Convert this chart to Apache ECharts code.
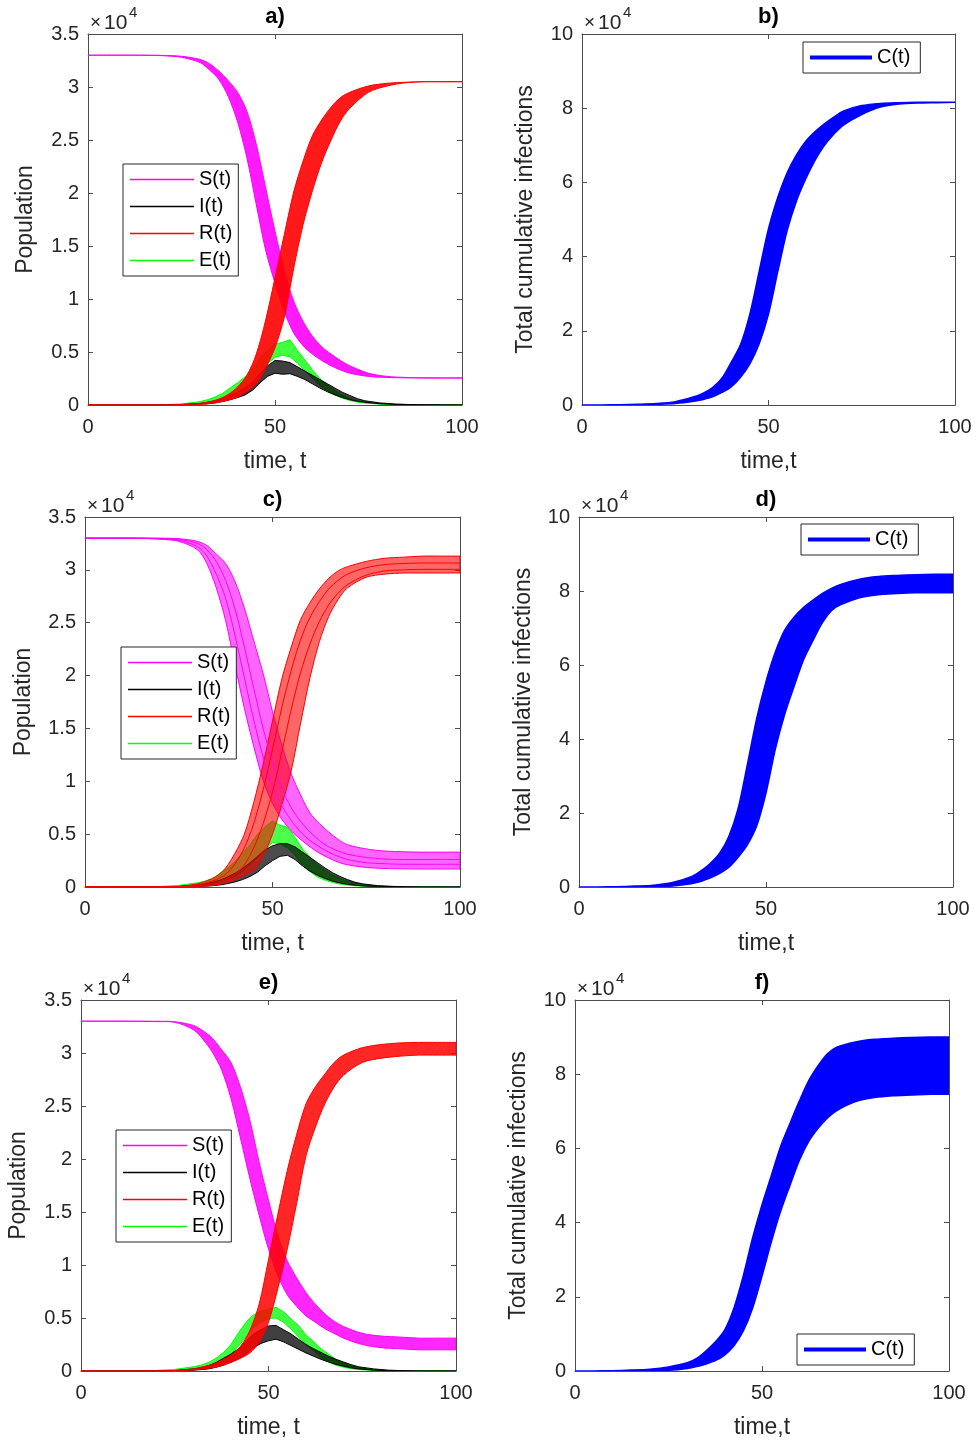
<!DOCTYPE html>
<html>
<head>
<meta charset="utf-8">
<title>SEIR stochastic runs</title>
<script src="https://cdn.jsdelivr.net/npm/echarts@6/dist/echarts.min.js"></script>
<style>
html, body { margin: 0; padding: 0; background: #fff; }
#main { width: 978px; height: 1446px; }
</style>
</head>
<body>
<div id="main"></div>
<script>
// time grids (band curves / noisy E,I curves)
var T = [0, 5, 10, 15, 20, 25, 30, 32.5, 35, 37.5, 40, 42.5, 45, 47.5, 50, 52.5, 55, 57.5, 60, 62.5, 65, 67.5, 70, 75, 80, 85, 90, 95, 100];
var TN = [0, 10, 20, 25, 30, 32, 34, 36, 38, 40, 42, 44, 46, 48, 50, 52, 54, 56, 58, 60, 62, 64, 66, 68, 70, 72, 74, 78, 82, 86, 90, 100];

// panel a) - lower / upper edges of each ensemble
var sLoA = [33000, 33000, 33000, 32990, 32950, 32800, 32300, 31600, 30700, 29100, 26700, 23300, 18900, 14600, 11500, 8800, 6800, 5600, 4800, 4200, 3700, 3300, 3000, 2700, 2600, 2560, 2550, 2550, 2550];
var sHiA = [33000, 33000, 33000, 33000, 32980, 32900, 32600, 32200, 31500, 30600, 29500, 27700, 24600, 20500, 16400, 12700, 9800, 7900, 6500, 5500, 4800, 4200, 3700, 3000, 2700, 2600, 2560, 2550, 2550];
var rLoA = [0, 0, 0, 0, 0, 10, 60, 130, 250, 450, 750, 1300, 2000, 3500, 5400, 8300, 12900, 17000, 20200, 22900, 25000, 26800, 28000, 29500, 30100, 30400, 30500, 30500, 30500];
var rHiA = [0, 0, 0, 0, 5, 30, 150, 300, 550, 1000, 1700, 2800, 4800, 8000, 12000, 16100, 20100, 23000, 25400, 26900, 28100, 29000, 29500, 30100, 30350, 30450, 30500, 30500, 30500];
var eLoA = [0, 0, 10, 50, 150, 280, 450, 700, 1000, 1300, 1700, 2400, 3200, 3900, 4500, 4700, 4550, 3950, 3250, 2500, 1850, 1350, 950, 650, 420, 280, 180, 80, 30, 10, 0, 0];
var eHiA = [0, 0, 30, 100, 320, 500, 750, 1100, 1600, 2100, 2650, 3400, 4450, 5200, 5750, 5900, 6150, 5150, 4250, 3300, 2500, 1850, 1350, 950, 620, 400, 250, 120, 50, 20, 10, 0];
var iLoA = [0, 0, 0, 20, 80, 120, 200, 350, 500, 700, 950, 1400, 2100, 2700, 3000, 2900, 2950, 2700, 2400, 2000, 1600, 1250, 950, 700, 500, 350, 250, 120, 50, 20, 5, 0];
var iHiA = [0, 0, 10, 50, 150, 250, 400, 600, 900, 1200, 1600, 2200, 3000, 3700, 4200, 4150, 4000, 3600, 3200, 2800, 2400, 2000, 1600, 1200, 900, 600, 400, 200, 100, 40, 20, 0];

// panel c)
var sLoC = [33000, 33000, 33000, 32980, 32900, 32700, 31900, 30600, 28300, 25200, 21000, 16900, 13300, 10100, 7900, 6400, 5300, 4500, 3800, 3200, 2750, 2350, 2100, 1850, 1750, 1720, 1700, 1700, 1700];
var sHiC = [33000, 33000, 33000, 33000, 33000, 32950, 32700, 32300, 31500, 30600, 28900, 26400, 23300, 20200, 16600, 13400, 10700, 8700, 7000, 6000, 5200, 4500, 4000, 3600, 3400, 3330, 3300, 3300, 3300];
var sMid1C = [33000, 33000, 33000, 32990, 32930, 32800, 32200, 31300, 29600, 27300, 23800, 19800, 15800, 12300, 9600, 7700, 6300, 5200, 4400, 3800, 3300, 2900, 2600, 2300, 2200, 2150, 2150, 2150, 2150];
var sMid2C = [33000, 33000, 33000, 33000, 32970, 32880, 32500, 31900, 30800, 29000, 26300, 22700, 18800, 15000, 11800, 9300, 7500, 6200, 5200, 4400, 3800, 3400, 3100, 2800, 2650, 2600, 2600, 2600, 2600];
var rLoC = [0, 0, 0, 0, 0, 0, 50, 100, 200, 400, 700, 1100, 1600, 2900, 5000, 7800, 11000, 15500, 19800, 23200, 25600, 27200, 28300, 29300, 29600, 29700, 29700, 29700, 29700];
var rHiC = [0, 0, 0, 0, 10, 50, 300, 600, 1000, 1800, 3200, 5000, 8000, 11600, 15700, 19700, 22700, 25300, 26900, 28200, 29200, 29900, 30300, 30800, 31100, 31200, 31300, 31300, 31300];
var rMid1C = [0, 0, 0, 0, 5, 30, 200, 400, 700, 1200, 2200, 3700, 6000, 9200, 13000, 17000, 20500, 23400, 25500, 27000, 28200, 29000, 29600, 30200, 30500, 30600, 30650, 30650, 30650];
var rMid2C = [0, 0, 0, 0, 0, 10, 100, 200, 400, 700, 1200, 2100, 3700, 6000, 9000, 12800, 16800, 20300, 23000, 25100, 26700, 27800, 28600, 29500, 29900, 30000, 30050, 30050, 30050];
var eLoC = [0, 0, 10, 30, 150, 220, 320, 500, 750, 1050, 1500, 2100, 2800, 3600, 4200, 4100, 3700, 3000, 2000, 1450, 950, 650, 420, 280, 180, 120, 80, 30, 10, 0, 0, 0];
var eHiC = [0, 5, 50, 150, 400, 550, 800, 1300, 1800, 2400, 3200, 4000, 5000, 5700, 6250, 5850, 5650, 4700, 3600, 2800, 2100, 1600, 1150, 800, 550, 350, 220, 100, 40, 20, 10, 0];
var iLoC = [0, 0, 0, 10, 50, 80, 120, 200, 320, 480, 700, 1000, 1400, 2000, 2500, 2900, 3000, 2600, 2000, 1500, 1100, 800, 550, 380, 250, 170, 100, 40, 10, 0, 0, 0];
var iHiC = [0, 0, 10, 50, 200, 300, 450, 650, 950, 1300, 1750, 2300, 2900, 3500, 3900, 4100, 4100, 3800, 3300, 2800, 2300, 1800, 1350, 1000, 700, 450, 300, 130, 60, 20, 5, 0];

// panel e)
var sLoE = [33000, 33000, 33000, 32990, 32960, 32900, 32200, 31300, 30100, 28400, 25700, 22000, 18200, 14700, 11500, 9000, 7200, 6100, 5200, 4600, 4000, 3550, 3100, 2500, 2200, 2100, 2000, 2000, 2000];
var sHiE = [33000, 33000, 33000, 33000, 32990, 32950, 32600, 32100, 31400, 30300, 29100, 26800, 23700, 19700, 16100, 12800, 10400, 8800, 7400, 6300, 5400, 4700, 4200, 3550, 3300, 3200, 3100, 3100, 3100];
var rLoE = [0, 0, 0, 0, 0, 20, 100, 200, 300, 500, 800, 1200, 1700, 2700, 4600, 7800, 11500, 15800, 20300, 23000, 25200, 26800, 27900, 29100, 29500, 29700, 29800, 29800, 29800];
var rHiE = [0, 0, 0, 0, 10, 50, 200, 400, 600, 1000, 1500, 2300, 3800, 6300, 10500, 14800, 18900, 22300, 25200, 26800, 28000, 29100, 29800, 30500, 30800, 30950, 31000, 31000, 31000];
var eLoE = [0, 0, 10, 30, 200, 350, 500, 700, 1050, 1600, 2350, 3200, 4100, 4600, 4950, 5000, 4600, 3950, 3200, 2500, 1900, 1300, 850, 550, 350, 220, 140, 50, 20, 0, 0, 0];
var eHiE = [0, 5, 50, 150, 400, 550, 800, 1200, 1750, 2500, 3600, 4600, 5300, 5650, 5850, 6000, 5600, 4900, 4300, 3400, 2800, 2100, 1600, 1100, 750, 480, 300, 120, 50, 20, 10, 0];
var iLoE = [0, 0, 0, 10, 80, 130, 200, 350, 550, 850, 1150, 1600, 2200, 2600, 2850, 3000, 2750, 2400, 2050, 1700, 1400, 1100, 850, 620, 450, 300, 200, 80, 30, 10, 0, 0];
var iHiE = [0, 0, 10, 50, 200, 300, 500, 800, 1200, 1600, 2100, 2800, 3500, 3900, 4250, 4300, 3900, 3500, 3000, 2500, 2100, 1750, 1400, 1100, 850, 600, 400, 200, 80, 30, 10, 0];

// panels b) d) f) - cumulative infections band
var cLoB = [0, 0, 50, 100, 200, 400, 1000, 1500, 2200, 3400, 4900, 7500, 11100, 16500, 24500, 36000, 47000, 55000, 61000, 66000, 70000, 73000, 75400, 78300, 80300, 81100, 81400, 81500, 81600];
var cHiB = [0, 20, 100, 200, 400, 900, 2200, 3200, 4700, 7200, 11500, 16300, 24500, 36000, 47500, 56000, 62600, 67400, 71100, 73700, 75800, 77600, 79200, 80700, 81300, 81500, 81600, 81600, 81600];
var cLoD = [0, 0, 20, 50, 100, 300, 900, 1500, 2400, 3600, 5300, 8000, 11400, 16500, 25400, 37300, 46700, 54200, 61300, 66500, 71300, 74700, 76300, 78200, 79000, 79300, 79500, 79500, 79500];
var cHiD = [0, 20, 100, 250, 500, 1200, 2800, 4300, 6300, 9000, 13500, 21000, 33000, 45500, 55500, 63500, 69400, 72900, 75500, 77500, 79300, 80700, 81800, 83200, 83900, 84200, 84400, 84500, 84500];
var cLoF = [0, 0, 20, 60, 100, 200, 700, 1200, 1900, 2800, 4300, 6800, 10800, 17000, 25600, 34800, 43100, 50100, 56800, 61900, 65400, 68200, 70200, 72600, 73700, 74200, 74400, 74600, 74600];
var cHiF = [0, 20, 100, 250, 500, 1100, 2200, 3400, 5400, 7800, 11000, 17000, 25700, 35900, 44800, 52700, 60600, 66800, 72800, 78300, 82300, 85500, 87300, 88700, 89400, 89700, 89900, 90000, 90000];

var FONT = '"Liberation Sans", Arial, Helvetica, sans-serif';
var AX = '#4d4d4d';
var TXT = '#262626';
var COL = { S: '#ff00ff', I: '#000000', R: '#ff0000', E: '#00ff00', C: '#0000ff' };
var NAME = { S: 'S(t)', I: 'I(t)', R: 'R(t)', E: 'E(t)', C: 'C(t)' };

var panels = [
    { tag: 'a)', kind: 'pop', box: [88, 34, 374, 371], yGap: 51, leg: [123, 164], S: [sLoA, sHiA], R: [rLoA, rHiA], E: [eLoA, eHiA], I: [iLoA, iHiA], fill: [0.9, 0.75] },
    { tag: 'b)', kind: 'cum', box: [582, 34, 373, 371], yGap: 45, leg: [803, 42], C: [cLoB, cHiB] },
    { tag: 'c)', kind: 'pop', box: [85, 517, 375, 370], yGap: 50, leg: [121, 647], S: [sLoC, sHiC], R: [rLoC, rHiC], E: [eLoC, eHiC], I: [iLoC, iHiC], fill: [0.6, 0.7],
      runs: { S: [sMid1C, sMid2C], R: [rMid1C, rMid2C] } },
    { tag: 'd)', kind: 'cum', box: [579, 517, 374, 370], yGap: 44, leg: [801, 524], C: [cLoD, cHiD] },
    { tag: 'e)', kind: 'pop', box: [81, 1000, 375, 371], yGap: 51, leg: [116, 1130], S: [sLoE, sHiE], R: [rLoE, rHiE], E: [eLoE, eHiE], I: [iLoE, iHiE], fill: [0.85, 0.75] },
    { tag: 'f)', kind: 'cum', box: [575, 1000, 374, 371], yGap: 45, leg: [797, 1334], C: [cLoF, cHiF] }
];

// ensemble envelope: filled polygon between lower and upper runs
function band(gi, key, xs, lo, hi, opacity, width, smooth) {
    return {
        type: 'custom', name: NAME[key], xAxisIndex: 2 * gi, yAxisIndex: 2 * gi,
        silent: true, clip: true,
        itemStyle: { color: COL[key] },
        encode: { x: 0, y: [1, 2] },
        data: xs.map(function (t, i) { return [t, lo[i], hi[i]]; }),
        renderItem: function (params, api) {
            if (params.dataIndex !== 0) return null;
            var cs = params.coordSys;
            var n = xs.length, pts = [], i;
            // end points doubled so the smoothing keeps sharp corners at t=0 / t=100
            pts.push(api.coord([xs[0], hi[0]]));
            for (i = 0; i < n; i++) pts.push(api.coord([xs[i], hi[i]]));
            pts.push(api.coord([xs[n - 1], hi[n - 1]]));
            pts.push(api.coord([xs[n - 1], lo[n - 1]]));
            for (i = n - 1; i >= 0; i--) pts.push(api.coord([xs[i], lo[i]]));
            pts.push(api.coord([xs[0], lo[0]]));
            return {
                type: 'polygon',
                shape: {
                    points: pts, smooth: smooth,
                    smoothConstraint: [[cs.x, cs.y], [cs.x + cs.width, cs.y + cs.height]]
                },
                style: { fill: COL[key], opacity: 1, fillOpacity: opacity, stroke: COL[key], lineWidth: width, lineJoin: 'round' }
            };
        }
    };
}

// a single run drawn inside the envelope
function run(gi, key, xs, ys) {
    return {
        type: 'line', name: NAME[key], xAxisIndex: 2 * gi, yAxisIndex: 2 * gi,
        data: xs.map(function (t, i) { return [t, ys[i]]; }),
        symbol: 'none', smooth: 0.3, silent: true,
        lineStyle: { color: COL[key], width: 1 }, itemStyle: { color: COL[key] },
        emphasis: { disabled: true }
    };
}

function axisBase(showLabel) {
    return {
        axisLine: { show: true, onZero: false, lineStyle: { color: AX, width: 1 } },
        axisTick: { show: true, inside: true, length: 5, lineStyle: { color: AX, width: 1 } },
        axisLabel: { show: showLabel, color: TXT, fontSize: 20, fontFamily: FONT },
        splitLine: { show: false }
    };
}

var grid = [], xAxis = [], yAxis = [], series = [], legend = [], graphic = [];

panels.forEach(function (p, gi) {
    var L = p.box[0], Tp = p.box[1], W = p.box[2], H = p.box[3];
    var pop = p.kind === 'pop';
    grid.push({ left: L, top: Tp, width: W, height: H });

    var xb = axisBase(true);
    xb.axisLabel.margin = 12;
    xAxis.push(Object.assign(xb, {
        type: 'value', gridIndex: gi, position: 'bottom', min: 0, max: 100, interval: 50,
        name: pop ? 'time, t' : 'time,t', nameLocation: 'middle', nameGap: 45,
        nameTextStyle: { fontSize: 23, color: TXT, fontFamily: FONT }
    }));
    xAxis.push(Object.assign(axisBase(false), {
        type: 'value', gridIndex: gi, position: 'top', min: 0, max: 100, interval: 50
    }));

    var ymax = pop ? 35000 : 100000, yint = pop ? 5000 : 20000;
    var yl = axisBase(true);
    yl.axisLabel.margin = 9;
    yl.axisLabel.formatter = function (v) { return String(v / 10000); };
    yAxis.push(Object.assign(yl, {
        type: 'value', gridIndex: gi, position: 'left', min: 0, max: ymax, interval: yint,
        name: pop ? 'Population' : 'Total cumulative infections', nameLocation: 'middle', nameGap: p.yGap,
        nameTextStyle: { fontSize: 23, color: TXT, fontFamily: FONT }
    }));
    yAxis.push(Object.assign(axisBase(false), {
        type: 'value', gridIndex: gi, position: 'right', min: 0, max: ymax, interval: yint
    }));

    var legendNames;
    if (pop) {
        series.push(band(gi, 'S', T, p.S[0], p.S[1], p.fill[0], 1, 0.3));
        if (p.runs) p.runs.S.forEach(function (ys) { series.push(run(gi, 'S', T, ys)); });
        series.push(
            band(gi, 'E', TN, p.E[0], p.E[1], p.fill[1], 1, 0),
            band(gi, 'I', TN, p.I[0], p.I[1], p.fill[1], 1, 0),
            band(gi, 'R', T, p.R[0], p.R[1], p.fill[0], 1, 0.3)
        );
        if (p.runs) p.runs.R.forEach(function (ys) { series.push(run(gi, 'R', T, ys)); });
        legendNames = ['S', 'I', 'R', 'E'];
    } else {
        series.push(band(gi, 'C', T, p.C[0], p.C[1], 1, 1.5, 0.3));
        legendNames = ['C'];
    }

    legend.push({
        left: p.leg[0], top: p.leg[1], orient: 'vertical', selectedMode: false,
        data: legendNames.map(function (k) { return { name: NAME[k], itemStyle: { color: COL[k] } }; }),
        icon: 'rect', itemWidth: pop ? 64 : 62, itemHeight: pop ? 1.5 : 4, itemGap: 6,
        padding: pop ? [5, 6, 5, 7] : [5, 10, 5, 7],
        borderColor: '#262626', borderWidth: 1, backgroundColor: '#fff',
        textStyle: { fontSize: 20, lineHeight: 21, color: '#000', fontFamily: FONT }
    });

    graphic.push(
        { type: 'text', x: L + W / 2, y: Tp - 17, style: { text: p.tag, fontSize: 22, fontWeight: 'bold', fontFamily: FONT, fill: '#000', align: 'center', verticalAlign: 'middle' } },
        { type: 'text', x: L + 2, y: Tp - 11, style: { text: '\u00d7', fontSize: 19, fontFamily: FONT, fill: TXT, verticalAlign: 'middle' } },
        { type: 'text', x: L + 16, y: Tp - 11, style: { text: '10', fontSize: 21, fontFamily: FONT, fill: TXT, verticalAlign: 'middle' } },
        { type: 'text', x: L + 41, y: Tp - 21, style: { text: '4', fontSize: 15, fontFamily: FONT, fill: TXT, verticalAlign: 'middle' } }
    );
});

var chart = echarts.init(document.getElementById('main'), null, { renderer: 'canvas' });
chart.setOption({
    animation: false,
    backgroundColor: '#fff',
    grid: grid,
    xAxis: xAxis,
    yAxis: yAxis,
    legend: legend,
    graphic: graphic,
    series: series
});
</script>
</body>
</html>
